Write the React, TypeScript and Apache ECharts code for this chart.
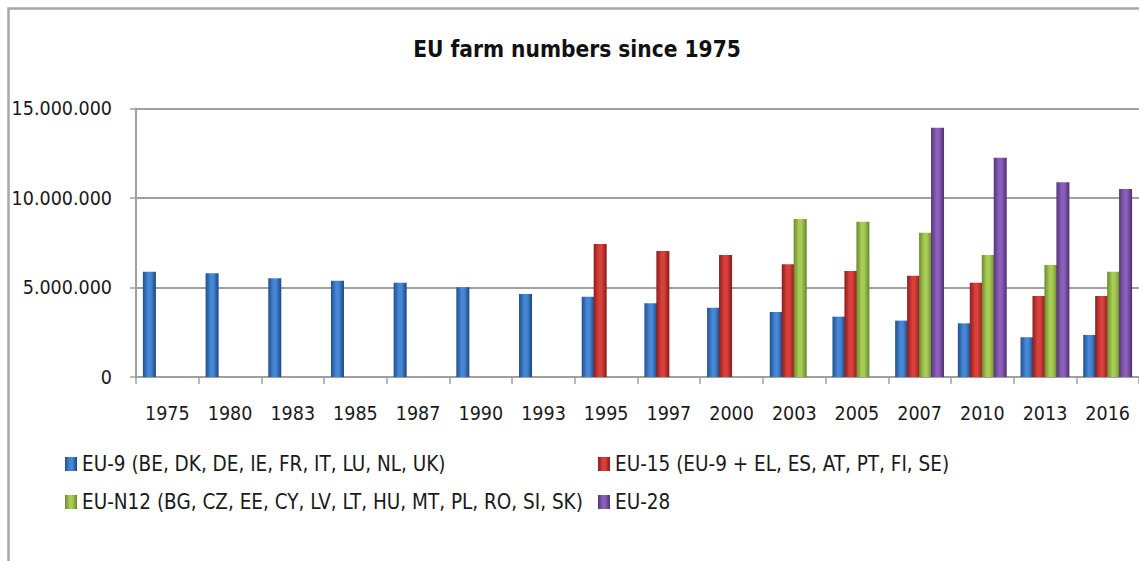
import React, { useEffect, useRef } from "react";
import * as echarts from "echarts";

const categories = ["1975", "1980", "1983", "1985", "1987", "1990", "1993", "1995", "1997", "2000", "2003", "2005", "2007", "2010", "2013", "2016"];
const eu9 = [5880000, 5790000, 5510000, 5380000, 5270000, 5010000, 4640000, 4490000, 4120000, 3870000, 3630000, 3370000, 3150000, 3000000, 2220000, 2350000];
const eu15 = [null, null, null, null, null, null, null, 7430000, 7040000, 6820000, 6300000, 5920000, 5660000, 5270000, 4530000, 4530000];
const euN12 = [null, null, null, null, null, null, null, null, null, null, 8830000, 8680000, 8060000, 6820000, 6260000, 5880000];
const eu28 = [null, null, null, null, null, null, null, null, null, null, null, null, 13930000, 12250000, 10880000, 10500000];
const seriesNames = [
  "EU-9 (BE, DK, DE, IE, FR, IT, LU, NL, UK)",
  "EU-15 (EU-9 + EL, ES, AT, PT, FI, SE)",
  "EU-N12 (BG, CZ, EE, CY, LV, LT, HU, MT, PL, RO, SI, SK)",
  "EU-28",
];
const yTicks = { min: 0, max: 15000000, interval: 5000000 };
const title = "EU farm numbers since 1975";

const FONT = "'DejaVu Sans Condensed', 'Liberation Sans', sans-serif";

function grad(edgeL: string, mid: string, edgeR: string) {
  return {
    type: "linear",
    x: 0,
    y: 0,
    x2: 1,
    y2: 0,
    colorStops: [
      { offset: 0, color: edgeL },
      { offset: 0.4, color: mid },
      { offset: 0.6, color: mid },
      { offset: 1, color: edgeR },
    ],
  };
}

const fills = [
  grad("#1f4f8f", "#4688d6", "#1c4580"),
  grad("#8e1d1b", "#d8403c", "#8a1a18"),
  grad("#6a8a2c", "#a9cc55", "#65852a"),
  grad("#553578", "#8a5fba", "#4f2f70"),
];

function fmt(v: number) {
  return String(v).replace(/\B(?=(\d{3})+(?!\d))/g, ".");
}

export default function App() {
  const ref = useRef<HTMLDivElement>(null);
  useEffect(() => {
    if (!ref.current) return;
    const chart = echarts.init(ref.current, undefined, { renderer: "svg" });
    const data = [eu9, eu15, euN12, eu28];
    const legendText = { fontFamily: FONT, fontSize: 20.5, color: "#1a1a1a", lineHeight: 24 };
    chart.setOption({
      animation: false,
      backgroundColor: "#ffffff",
      title: {
        text: title,
        left: 577,
        top: 37,
        textAlign: "center",
        padding: 0,
        textStyle: { fontFamily: FONT, fontSize: 22.5, fontWeight: "bold", color: "#111111" },
      },
      graphic: [
        {
          type: "rect",
          shape: { x: 8.5, y: 8.5, width: 1300, height: 700 },
          style: { fill: "none", stroke: "#a8a8a8", lineWidth: 2.5 },
          silent: true,
        },
      ],
      legend: [
        {
          orient: "vertical",
          left: 65,
          top: 452,
          padding: 0,
          itemGap: 14,
          itemWidth: 12,
          itemHeight: 14,
          icon: "rect",
          data: [seriesNames[0], seriesNames[2]],
          textStyle: legendText,
        },
        {
          orient: "vertical",
          left: 598,
          top: 452,
          padding: 0,
          itemGap: 14,
          itemWidth: 12,
          itemHeight: 14,
          icon: "rect",
          data: [seriesNames[1], seriesNames[3]],
          textStyle: legendText,
        },
      ],
      grid: { left: 136, top: 108.5, bottom: 184, right: -6, containLabel: false },
      xAxis: {
        type: "category",
        data: categories,
        boundaryGap: true,
        axisLine: { show: true, lineStyle: { color: "#a0a0a0", width: 2 } },
        axisTick: { show: true, length: 7, interval: 0, lineStyle: { color: "#a0a0a0", width: 1.5 } },
        axisLabel: { interval: 0, margin: 26, fontFamily: FONT, fontSize: 19.5, color: "#1a1a1a" },
      },
      yAxis: {
        type: "value",
        min: yTicks.min,
        max: yTicks.max,
        interval: yTicks.interval,
        axisLine: { show: true, lineStyle: { color: "#a0a0a0", width: 2 } },
        axisTick: { show: true, length: 6, lineStyle: { color: "#a0a0a0", width: 1.5 } },
        splitLine: { show: true, lineStyle: { color: "#a0a0a0", width: 2 } },
        axisLabel: { margin: 24, fontFamily: FONT, fontSize: 19.5, color: "#1a1a1a", formatter: (v: number) => fmt(v) },
      },
      series: data.map((d, i) => ({
        name: seriesNames[i],
        type: "bar",
        data: d,
        barWidth: 13,
        barGap: "-8%",
        itemStyle: { color: fills[i] },
      })),
    });
    return () => chart.dispose();
  }, []);
  return <div ref={ref} style={{ position: "fixed", left: 0, top: 0, width: 1139, height: 561 }} />;
}
